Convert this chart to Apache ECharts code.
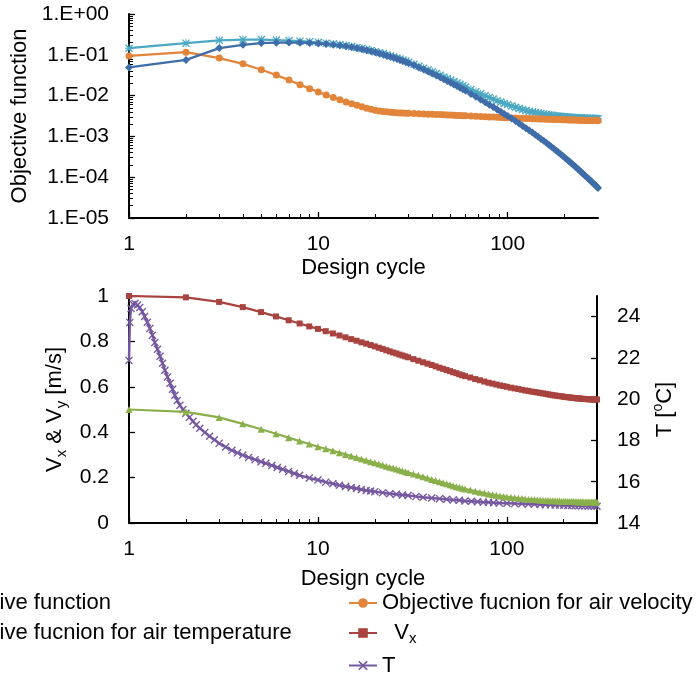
<!DOCTYPE html>
<html><head><meta charset="utf-8">
<script src="https://cdn.jsdelivr.net/npm/echarts@6/dist/echarts.min.js"></script>
<style>html,body{margin:0;padding:0;background:#fff}#c{width:699px;height:679px}</style>
</head><body><div id="c"></div>
<script>
// ---- data ----
const cycles = [1,2,3,4,5,6,7,8,9,10,11,12,13,14,15,16,17,18,19,20,21,22,23,24,25,26,27,28,29,30,
32,34,36,38,40,42,44,46,48,50,52,54,56,58,60,
64,68,72,76,80,84,88,92,96,100,
105,110,115,120,125,130,135,140,145,150,155,160,165,170,175,180,185,190,195,200,205,210,215,220,225,230,235,240,245,250,255,260,265,270,275,280,285,290,295,300];

const objTotal = [0.145,0.193,0.226,0.236,0.237,0.230,0.223,0.216,0.210,0.202,0.193,0.185,0.176,0.168,0.159,0.151,0.142,0.134,0.127,0.119,0.112,0.106,0.0994,0.0938,0.0884,0.0833,0.0786,0.0741,0.0700,0.0660,
0.0587,0.0526,0.0471,0.0424,0.0383,0.0347,0.0315,0.0287,0.0263,0.0240,0.0221,0.0205,0.0189,0.0175,0.0163,
0.0142,0.0125,0.0111,0.00994,0.00900,0.00820,0.00752,0.00693,0.00644,0.00602,
0.00556,0.00519,0.00485,0.00458,0.00434,0.00413,0.00395,0.00385,0.00372,0.00362,0.00352,0.00343,0.00336,0.00329,0.00323,0.00318,0.00313,0.00309,0.00305,0.00301,0.00298,0.00295,0.00292,0.00290,0.00288,0.00286,0.00284,0.00283,0.00281,0.00280,0.00279,0.00278,0.00277,0.00276,0.00275,0.00274,0.00274,0.00273,0.00272,0.00272];

const objTemp = [0.049,0.075,0.146,0.176,0.194,0.198,0.199,0.198,0.195,0.190,0.183,0.176,0.168,0.161,0.153,0.145,0.137,0.129,0.122,0.115,0.108,0.102,0.0954,0.0899,0.0845,0.0795,0.0748,0.0704,0.0663,0.0623,
0.0551,0.0490,0.0436,0.0389,0.0348,0.0312,0.0281,0.0253,0.0229,0.0207,0.0188,0.0172,0.0156,0.0143,0.0131,
0.0110,0.00935,0.00804,0.00691,0.00600,0.00523,0.00458,0.00402,0.00356,0.00316,
0.00273,0.00238,0.00206,0.00181,0.00159,0.00140,0.00124,0.00110,0.000978,0.000869,0.000777,0.000695,0.000625,0.000561,0.000503,0.000454,0.000410,0.000369,0.000335,0.000303,0.000275,0.000251,0.000229,0.000208,0.000190,0.000172,0.000158,0.000145,0.000133,0.000122,0.000111,0.000103,0.0000948,0.0000875,0.0000808,0.0000746,0.0000688,0.0000641,0.0000591,0.0000546];

const objVel = [0.094,0.116,0.083,0.060,0.043,0.032,0.0240,0.0185,0.0148,0.0122,0.0104,0.0090,0.0079,0.0070,0.0063,0.0058,0.0053,0.0049,0.0046,0.0044,0.0042,0.0041,0.00400,0.00392,0.00386,0.00381,0.00377,0.00373,0.00370,0.00367,
0.00362,0.00358,0.00354,0.00351,0.00348,0.00345,0.00342,0.00339,0.00336,0.00333,0.00330,0.00327,0.00325,0.00322,0.00319,
0.00315,0.00311,0.00307,0.00303,0.00300,0.00297,0.00294,0.00291,0.00288,0.00286,
0.00283,0.00281,0.00279,0.00277,0.00275,0.00273,0.00271,0.00270,0.00268,0.00267,0.00266,0.00264,0.00263,0.00262,0.00261,0.00260,0.00259,0.00258,0.00257,0.00256,0.00255,0.00254,0.00253,0.00253,0.00252,0.00251,0.00250,0.00250,0.00249,0.00248,0.00248,0.00247,0.00247,0.00246,0.00246,0.00245,0.00245,0.00244,0.00244,0.00243];

const vx = [1.000,0.994,0.974,0.951,0.929,0.910,0.893,0.879,0.866,0.855,0.845,0.835,0.826,0.818,0.810,0.803,0.796,0.790,0.784,0.778,0.772,0.767,0.761,0.756,0.751,0.747,0.742,0.738,0.734,0.730,
0.722,0.715,0.708,0.702,0.696,0.690,0.684,0.679,0.674,0.669,0.664,0.660,0.655,0.651,0.647,
0.641,0.634,0.629,0.623,0.618,0.614,0.610,0.606,0.603,0.600,
0.596,0.593,0.590,0.587,0.584,0.582,0.579,0.577,0.575,0.573,0.571,0.569,0.567,0.565,0.563,0.562,0.560,0.559,0.558,0.556,0.555,0.554,0.553,0.552,0.551,0.550,0.549,0.549,0.548,0.547,0.547,0.546,0.546,0.545,0.545,0.545,0.544,0.544,0.544,0.544];

const vy = [0.500,0.490,0.465,0.437,0.413,0.393,0.376,0.361,0.348,0.336,0.327,0.318,0.310,0.302,0.295,0.288,0.282,0.276,0.270,0.265,0.260,0.255,0.250,0.246,0.242,0.238,0.234,0.230,0.226,0.223,
0.216,0.210,0.204,0.198,0.192,0.187,0.182,0.177,0.173,0.168,0.164,0.160,0.157,0.153,0.150,
0.145,0.140,0.136,0.132,0.128,0.125,0.122,0.119,0.117,0.115,
0.113,0.111,0.109,0.108,0.106,0.105,0.104,0.103,0.102,0.101,0.100,0.0995,0.099,0.0985,0.098,0.0975,0.097,0.0965,0.096,0.0957,0.0954,0.0951,0.0948,0.0945,0.0942,0.094,0.0938,0.0936,0.0934,0.0932,0.093,0.0928,0.0927,0.0926,0.0925,0.0924,0.0923,0.0922,0.0921,0.092];

const tCycles = [1,1.01,1.025,1.05,1.076,1.11,1.14,1.175,1.21,1.25,1.29,1.33,1.37,1.415,1.46,1.505,1.55,1.6,1.65,1.7,1.75,1.8,1.86,1.93,2.0,2.09,2.18,2.27,2.37,2.52,2.67,2.83,3.0,3.25,3.5,3.75,4.0,4.3,4.65,5.0,5.3,5.7,6.1,6.5,7,7.5,8,9,10,11,12,13,14,15,16,17,18,19,20,22,24,26,28,30,33,36,40,44,48,52,56,60,65,70,75,80,85,91,100,110,120,130,140,150,160,170,180,190,200,210,220,230,240,250,260,270,280,290,300];
const tVals = [21.88,23.72,24.40,24.60,24.64,24.56,24.44,24.24,24.01,23.73,23.43,23.10,22.75,22.42,22.08,21.74,21.40,21.08,20.77,20.48,20.19,19.94,19.70,19.50,19.32,19.12,18.93,18.76,18.59,18.39,18.20,18.03,17.86,17.68,17.52,17.40,17.29,17.18,17.07,16.97,16.89,16.79,16.69,16.60,16.50,16.40,16.31,16.18,16.08,15.98,15.90,15.83,15.77,15.72,15.67,15.62,15.58,15.55,15.52,15.47,15.42,15.39,15.36,15.33,15.29,15.25,15.21,15.18,15.15,15.12,15.10,15.07,15.05,15.03,15.01,15.00,14.98,14.97,14.96,14.94,14.93,14.92,14.91,14.90,14.89,14.88,14.87,14.87,14.86,14.85,14.85,14.84,14.84,14.83,14.83,14.82,14.82,14.81,14.81];

// minor tick positions (data units) on the log axes
const xMinorTicks = [2,3,4,5,6,7,8,9,20,30,40,50,60,70,80,90,200];
const yMinorMant = [2,3,4,5,6,7,8,9];
const yDecades = [-5,-4,-3,-2,-1];

const legendLeft = ['Objective function','Objective fucnion for air temperature','Vy'];
const legendRight = ['Objective fucnion for air velocity','Vx','T'];

// ---- styles ----
const FONT = '"Liberation Sans", Arial, sans-serif';
const TEAL = '#4BA8C2', BLUE = '#3F6DAA', ORANGE = '#E2853A', RED = '#A8433F', GREEN = '#8AB04C', PURPLE = '#7558A0';
const XSYM = 'path://M0,1.2 L1.2,0 L5,3.8 L8.8,0 L10,1.2 L6.2,5 L10,8.8 L8.8,10 L5,6.2 L1.2,10 L0,8.8 L3.8,5 Z';
const STAR = 'path://M0,1.2 L1.2,0 L5,3.8 L8.8,0 L10,1.2 L6.2,5 L10,8.8 L8.8,10 L5,6.2 L1.2,10 L0,8.8 L3.8,5 Z M4.4,0 L5.6,0 L5.6,10 L4.4,10 Z M0,4.4 L10,4.4 L10,5.6 L0,5.6 Z';

const pairs = (xs, ys) => xs.map((x, i) => [x, ys[i]]);
const txt = {color: '#000', fontFamily: FONT};
const rich = {
  m: {fontSize: 22, fontFamily: FONT, color: '#000'},
  s: {fontSize: 15, fontFamily: FONT, color: '#000', padding: [12, 0, 0, 0]},
  sup: {fontSize: 14, fontFamily: FONT, color: '#000', padding: [0, 0, 14, 0]}
};
const axLine = {show: true, onZero: false, lineStyle: {color: '#000', width: 2}};
const tick = {show: true, inside: true, length: 6, lineStyle: {color: '#000', width: 1.3}};
const XMAXLOG = Math.log10(300);

function minorX(grid) {
  return {type: 'value', gridIndex: grid, position: 'bottom', min: 0, max: XMAXLOG,
    axisLine: {show: false, onZero: false}, axisLabel: {show: false}, splitLine: {show: false},
    axisTick: {show: true, inside: true, length: 4, lineStyle: {color: '#000', width: 1},
      customValues: xMinorTicks.map(v => Math.log10(v))}};
}

function mkSeries(name, xs, ys, color, symbol, size, xi, yi, z, lw) {
  return {
    name, type: 'line', xAxisIndex: xi, yAxisIndex: yi, data: pairs(xs, ys),
    symbol, symbolSize: size, showAllSymbol: true,
    lineStyle: {color, width: lw || 2.25}, itemStyle: {color, borderColor: color, borderWidth: 0},
    emphasis: {disabled: true}, z
  };
}

function legendFmt(n) {
  if (n === 'Vx') return '{m|  V}{s|x}';
  if (n === 'Vy') return '{m|  V}{s|y}';
  return '{m|' + n + '}';
}

const yMinor = [];
yDecades.forEach(e => yMinorMant.forEach(m => yMinor.push(e + Math.log10(m))));

const option = {
  animation: false,
  backgroundColor: '#fff',
  grid: [
    {left: 129, top: 14, width: 469, height: 204, containLabel: false},
    {left: 129, top: 296, width: 468, height: 227, containLabel: false}
  ],
  xAxis: [
    {type: 'log', logBase: 10, gridIndex: 0, min: 1, max: 300,
     axisLine: axLine, axisTick: tick, splitLine: {show: false},
     axisLabel: Object.assign({fontSize: 21, margin: 16, showMaxLabel: false}, txt),
     name: 'Design cycle', nameLocation: 'middle', nameGap: 39,
     nameTextStyle: Object.assign({fontSize: 22}, txt)},
    {type: 'log', logBase: 10, gridIndex: 1, min: 1, max: 300,
     axisLine: axLine, axisTick: tick, splitLine: {show: false},
     axisLabel: Object.assign({fontSize: 21, margin: 16, showMaxLabel: false}, txt),
     name: 'Design cycle', nameLocation: 'middle', nameGap: 45,
     nameTextStyle: Object.assign({fontSize: 22}, txt)},
    minorX(0),
    minorX(1)
  ],
  yAxis: [
    {type: 'log', logBase: 10, gridIndex: 0, min: 0.00001, max: 1,
     axisLine: axLine, axisTick: tick, splitLine: {show: false},
     axisLabel: Object.assign({fontSize: 21, margin: 20, formatter: v => {
        const e = Math.round(Math.log10(v));
        return '1.E' + (e < 0 ? '-' : '+') + String(Math.abs(e)).padStart(2, '0');
     }}, txt),
     name: 'Objective function', nameLocation: 'middle', nameGap: 90, nameRotate: 90,
     nameTextStyle: Object.assign({fontSize: 22}, txt)},
    {type: 'value', gridIndex: 1, min: 0, max: 1, interval: 0.2,
     axisLine: axLine, axisTick: tick, splitLine: {show: false},
     axisLabel: Object.assign({fontSize: 21, margin: 20}, txt),
     name: '{m|V}{s|x}{m| & V}{s|y}{m| [m/s]}', nameLocation: 'middle', nameGap: 50, nameRotate: 90,
     nameTextStyle: {rich}},
    {type: 'value', gridIndex: 1, position: 'right', min: 14, max: 25, interval: 2,
     axisLine: axLine, axisTick: tick, splitLine: {show: false},
     axisLabel: Object.assign({fontSize: 21, margin: 20, showMaxLabel: false}, txt),
     name: '{m|T [}{sup|o}{m|C]}', nameLocation: 'middle', nameGap: 40, nameRotate: 90,
     nameTextStyle: {rich}},
    {type: 'value', gridIndex: 0, position: 'left', min: -5, max: 0,
     axisLine: {show: false, onZero: false}, axisLabel: {show: false}, splitLine: {show: false},
     axisTick: {show: true, inside: true, length: 4, lineStyle: {color: '#000', width: 1}, customValues: yMinor}}
  ],
  legend: [
    {data: legendLeft, orient: 'vertical', left: -103, top: 587, height: 110, itemWidth: 28, itemHeight: 12, itemGap: 8,
     selectedMode: false, formatter: legendFmt, textStyle: {rich, lineHeight: 22}},
    {data: legendRight, orient: 'vertical', left: 343, top: 587, height: 110, itemWidth: 28, itemHeight: 12, itemGap: 8,
     selectedMode: false, formatter: legendFmt, textStyle: {rich, lineHeight: 22}}
  ],
  series: [
    mkSeries('Objective function', cycles, objTotal, TEAL, STAR, 8, 0, 0, 2),
    mkSeries('Objective fucnion for air velocity', cycles, objVel, ORANGE, 'circle', 7, 0, 0, 3),
    mkSeries('Objective fucnion for air temperature', cycles, objTemp, BLUE, 'diamond', 8, 0, 0, 4),
    mkSeries('T', tCycles, tVals, PURPLE, XSYM, 8, 1, 2, 2, 2.5),
    mkSeries('Vx', cycles, vx, RED, 'rect', 6, 1, 1, 3),
    mkSeries('Vy', cycles, vy, GREEN, 'triangle', 7, 1, 1, 4)
  ]
};
const chart = echarts.init(document.getElementById('c'), null, {renderer: 'canvas'});
chart.setOption(option);
</script>
</body></html>
